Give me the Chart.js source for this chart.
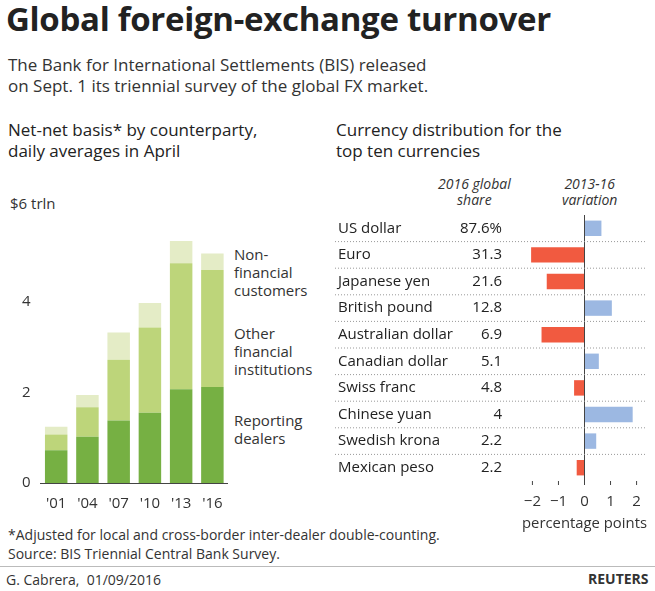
<!DOCTYPE html>
<html><head><meta charset="utf-8">
<script src="https://cdn.jsdelivr.net/npm/chart.js@4"></script>
<style>
body{margin:0;width:655px;height:591px;background:#fff;font-family:"Source Sans Pro","Open Sans",sans-serif;color:#222;position:relative;overflow:hidden}
.a{position:absolute;white-space:nowrap}
h1{position:absolute;left:6px;top:-4px;margin:0;font-size:33px;font-weight:700;letter-spacing:-0.3px}
.sub{left:8px;top:54px;font-size:17px;line-height:21px;color:#333}
.hd{font-size:17px;line-height:21px;font-weight:500}
.lg{font-size:15px;line-height:18px;color:#333}
.it{font-style:italic;font-size:14px;line-height:16px;text-align:center;color:#333}
.fn{left:8px;top:525px;font-size:14px;line-height:19px;color:#333}
</style></head><body>
<h1>Global foreign-exchange turnover</h1>
<div class="a sub">The Bank for International Settlements (BIS) released<br>on Sept. 1 its triennial survey of the global FX market.</div>
<div class="a hd" style="left:8px;top:119px">Net-net basis* by counterparty,<br>daily averages in April</div>
<div class="a hd" style="left:336px;top:119px">Currency distribution for the<br>top ten currencies</div>
<div class="a lg" style="left:10px;top:194px">$6 trln</div>
<div class="a lg" style="left:234px;top:245px">Non-<br>financial<br>customers</div>
<div class="a lg" style="left:234px;top:324px">Other<br>financial<br>institutions</div>
<div class="a lg" style="left:234px;top:411px">Reporting<br>dealers</div>
<div class="a it" style="left:438px;top:176px">2016 global<br>share</div>
<div class="a it" style="left:562px;top:176px">2013-16<br>variation</div>
<div class="a fn">*Adjusted for local and cross-border inter-dealer double-counting.<br>Source: BIS Triennial Central Bank Survey.</div>
<div style="position:absolute;left:0;top:566px;width:655px;border-top:1px solid #bbb"></div>
<div class="a" style="left:6px;top:570px;font-size:14px;color:#333">G. Cabrera,&nbsp; 01/09/2016</div>
<div class="a" style="left:588px;top:569px;font-size:14px;font-weight:700;color:#333">REUTERS</div>
<div style="position:absolute;left:0;top:192px;width:228px;height:325px"><canvas id="left"></canvas></div>
<div style="position:absolute;left:335px;top:215px;width:320px;height:322px"><canvas id="right"></canvas></div>
<script>
const years = ["'01","'04","'07","'10","'13","'16"];
const reporting = [0.72, 1.02, 1.38, 1.55, 2.07, 2.12];
const otherFin = [0.35, 0.65, 1.34, 1.88, 2.78, 2.58];
const nonFin = [0.17, 0.27, 0.60, 0.54, 0.49, 0.36];
const yTicks = {0:'0', 2:'2', 4:'4', 6:''};

const currencies = ['US dollar','Euro','Japanese yen','British pound','Australian dollar','Canadian dollar','Swiss franc','Chinese yuan','Swedish krona','Mexican peso'];
const shares = ['87.6%','31.3','21.6','12.8','6.9','5.1','4.8','4','2.2','2.2'];
const variation = [0.65, -2.05, -1.45, 1.05, -1.65, 0.55, -0.4, 1.85, 0.45, -0.3];
const xTicks = [-2,-1,0,1,2];

const font = {family:'"Source Sans Pro","Open Sans",sans-serif', size:15};
Chart.defaults.font = font;
Chart.defaults.color = '#333';

new Chart('left', {
  type:'bar',
  data:{labels:years, datasets:[
    {data:reporting, backgroundColor:'#76b043'},
    {data:otherFin, backgroundColor:'#bdd57a'},
    {data:nonFin, backgroundColor:'#e4ecc6'}
  ]},
  options:{
    responsive:true, maintainAspectRatio:false, animation:false,
    layout:{padding:{top:0,right:0,left:12}},
    plugins:{legend:{display:false}, tooltip:{enabled:false}},
    scales:{
      x:{stacked:true, categoryPercentage:0.66, barPercentage:1, grid:{display:false}, border:{color:'#444'}, ticks:{padding:4}},
      y:{stacked:true, min:0, max:6, grid:{display:false, drawTicks:false}, border:{display:false},
         afterBuildTicks:s=>{s.ticks=[0,2,4,6].map(v=>({value:v}));},
         ticks:{callback:v=>yTicks[v], padding:10, align:'center'}}
    }
  }
});

const rowPlugin = {
  id:'rows',
  afterDraw(c){
    const ctx=c.ctx, y=c.scales.y, area=c.chartArea;
    ctx.save();
    ctx.font='15px "Source Sans Pro","Open Sans",sans-serif';
    ctx.fillStyle='#222'; ctx.textBaseline='middle';
    currencies.forEach((n,i)=>{
      const py=y.getPixelForValue(i);
      ctx.textAlign='left'; ctx.fillText(n,3,py);
      ctx.textAlign='right'; ctx.fillText(shares[i],167,py);
      if(i<currencies.length-1){
        const ly=(py+y.getPixelForValue(i+1))/2;
        ctx.strokeStyle='#999'; ctx.setLineDash([1,2]); ctx.lineWidth=1;
        ctx.beginPath(); ctx.moveTo(0,ly); ctx.lineTo(area.right,ly); ctx.stroke();
      }
    });
    ctx.restore();
  }
};

new Chart('right', {
  type:'bar',
  data:{labels:currencies, datasets:[{data:variation,
    backgroundColor:variation.map(v=>v<0?'#f15a40':'#9cb8e2'), categoryPercentage:0.58, barPercentage:1}]},
  options:{
    indexAxis:'y', responsive:true, maintainAspectRatio:false, animation:false,
    layout:{padding:{left:187,right:8}},
    plugins:{legend:{display:false}, tooltip:{enabled:false}},
    scales:{
      y:{display:false},
      x:{min:-2.4, max:2.4, grid:{display:false}, border:{display:false},
         afterBuildTicks:s=>{s.ticks=xTicks.map(v=>({value:v}));},
         ticks:{padding:4, callback:v=>v<0?'\u2212'+(-v):v, autoSkip:false},
         title:{display:true, text:'percentage points', font:{size:15}, padding:{top:0}}}
    }
  },
  plugins:[rowPlugin, {id:'zero', afterDatasetsDraw(c){
    const ctx=c.ctx, x=c.scales.x, a=c.chartArea, px=x.getPixelForValue(0);
    ctx.save(); ctx.strokeStyle='#444'; ctx.lineWidth=1;
    ctx.beginPath(); ctx.moveTo(px,a.top-22); ctx.lineTo(px,a.bottom+4); ctx.stroke();
    xTicks.forEach(t=>{const p=x.getPixelForValue(t); ctx.beginPath(); ctx.moveTo(p,a.bottom); ctx.lineTo(p,a.bottom+4); ctx.stroke();});
    ctx.restore();
  }}]
});
</script>
</body></html>
